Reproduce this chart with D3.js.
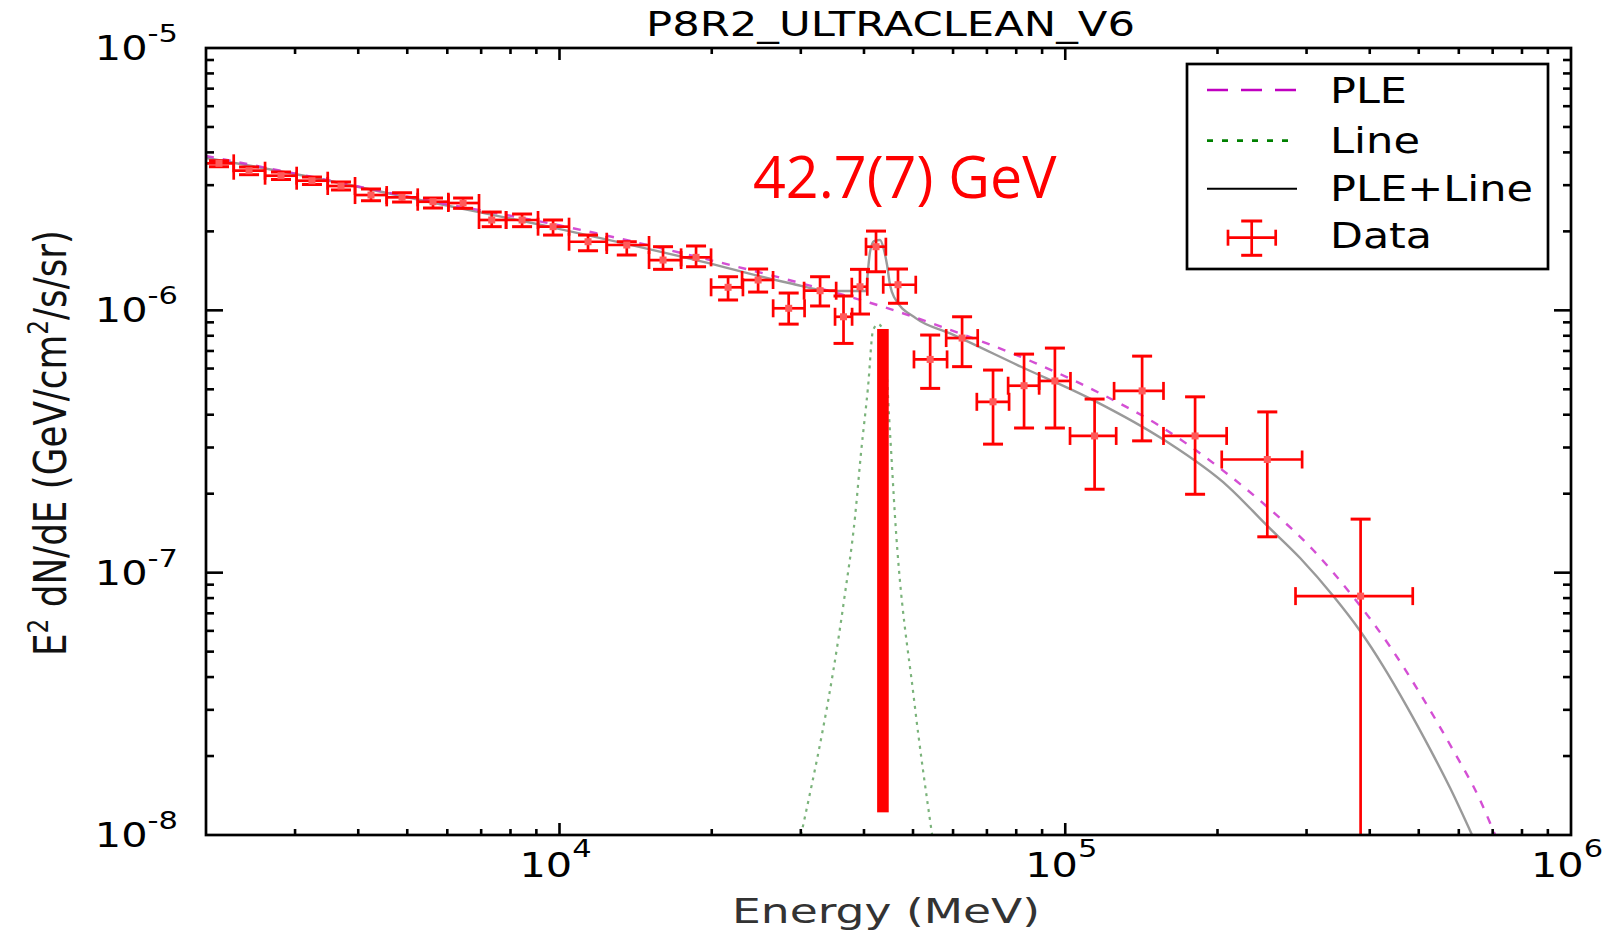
<html>
<head>
<title>P8R2_ULTRACLEAN_V6</title>
<script src="https://d3js.org/d3.v7.min.js"></script>
<style>
  body { margin: 0; background: #fff; }
  text { font-family: "DejaVu Sans", sans-serif; }
</style>
</head>
<body>
<svg id="chart" width="1607" height="933"></svg>
<script>
// ---- data (energy in MeV, flux in GeV/cm2/s/sr) ----
const energy     = [2122, 2433, 2814, 3240, 3698, 4239, 4883, 5622, 6447, 7345, 8433, 9711, 11387, 13584, 16022, 18621, 21543, 24700, 28390, 32750, 36440, 39280, 42250, 46700, 54060, 62520, 71980, 82900, 95400, 114300, 141900, 180600, 250900, 383700];
const energyLow  = [1960, 2269, 2617, 3022, 3481, 3942, 4553, 5244, 6029, 6932, 7841, 9069, 10444, 12400, 15033, 17395, 19940, 22960, 26450, 30450, 35060, 37840, 40370, 43660, 50220, 58150, 66860, 77100, 88790, 102200, 124900, 156400, 203900, 285300];
const energyHigh = [2269, 2617, 3022, 3481, 3942, 4553, 5244, 6029, 6932, 7841, 9069, 10444, 12400, 15033, 17395, 19937, 23050, 26440, 30520, 35240, 37890, 40600, 44190, 50630, 58390, 67130, 77440, 88790, 102400, 126100, 156400, 208500, 294000, 486500];
const flux     = [3.634e-6, 3.406e-6, 3.260e-6, 3.120e-6, 2.978e-6, 2.751e-6, 2.696e-6, 2.594e-6, 2.565e-6, 2.210e-6, 2.210e-6, 2.084e-6, 1.826e-6, 1.774e-6, 1.555e-6, 1.592e-6, 1.224e-6, 1.305e-6, 1.018e-6, 1.188e-6, 9.45e-7, 1.230e-6, 1.748e-6, 1.252e-6, 6.50e-7, 7.84e-7, 4.48e-7, 5.16e-7, 5.38e-7, 3.32e-7, 4.93e-7, 3.32e-7, 2.70e-7, 8.14e-8];
const fluxHigh = [3.718e-6, 3.518e-6, 3.367e-6, 3.222e-6, 3.085e-6, 2.901e-6, 2.807e-6, 2.680e-6, 2.680e-6, 2.370e-6, 2.329e-6, 2.210e-6, 1.936e-6, 1.826e-6, 1.748e-6, 1.759e-6, 1.343e-6, 1.437e-6, 1.164e-6, 1.343e-6, 1.134e-6, 1.433e-6, 2.005e-6, 1.437e-6, 8.05e-7, 9.45e-7, 5.92e-7, 6.81e-7, 7.18e-7, 4.59e-7, 6.69e-7, 4.68e-7, 4.10e-7, 1.60e-7];
const fluxLow  = [3.527e-6, 3.289e-6, 3.153e-6, 3.018e-6, 2.876e-6, 2.617e-6, 2.587e-6, 2.455e-6, 2.448e-6, 2.084e-6, 2.084e-6, 1.936e-6, 1.687e-6, 1.625e-6, 1.433e-6, 1.466e-6, 1.095e-6, 1.174e-6, 8.86e-7, 1.039e-6, 7.48e-7, 9.68e-7, 1.403e-6, 1.064e-6, 5.04e-7, 6.10e-7, 3.09e-7, 3.56e-7, 3.56e-7, 2.08e-7, 3.18e-7, 1.99e-7, 1.37e-7, 1e-9];

// model curves
const pleEnergy = [2000, 3069, 5299, 10024, 18963, 35860, 41110, 58140, 87550, 117200, 154700, 200600, 250700, 309100, 370800, 438900, 507600, 582100, 661100, 707900];
const pleFlux   = [3.875e-6, 3.295e-6, 2.657e-6, 2.106e-6, 1.589e-6, 1.154e-6, 1.069e-6, 8.535e-7, 6.280e-7, 4.826e-7, 3.599e-7, 2.533e-7, 1.783e-7, 1.220e-7, 8.09e-8, 5.22e-8, 3.363e-8, 2.138e-8, 1.358e-8, 1.0e-8];

const lineEnergy = [30030, 36530, 38400, 39460, 40740, 41690, 42650, 43630, 45040, 46070, 50250, 54550];
const lineFlux   = [1.0e-8, 7.86e-8, 1.63e-7, 2.86e-7, 5.1e-7, 8.4e-7, 8.86e-7, 8.4e-7, 3.4e-7, 1.63e-7, 3.27e-8, 1.0e-8];

const totEnergy = [2000, 3069, 5299, 10024, 18963, 28570, 34260, 40370, 40740, 41110, 41870, 43030, 43820, 44430, 45040, 45860, 50710, 59210, 81780, 113500, 156900, 209900, 250700, 291300, 340100, 382900, 425100, 474300, 526500, 576800, 637400];
const totFlux   = [3.807e-6, 3.281e-6, 2.634e-6, 2.041e-6, 1.541e-6, 1.268e-6, 1.185e-6, 1.185e-6, 1.424e-6, 1.668e-6, 1.837e-6, 1.853e-6, 1.697e-6, 1.488e-6, 1.249e-6, 1.124e-6, 9.322e-7, 8.168e-7, 6.095e-7, 4.549e-7, 3.202e-7, 2.13e-7, 1.51e-7, 1.137e-7, 8.07e-8, 5.99e-8, 4.405e-8, 3.074e-8, 2.125e-8, 1.51e-8, 1.0e-8];

// red marker of the line position
const peakEnergy = 43600;
const peakTop = 8.49e-7;
const peakBottom = 1.22e-8;

const xTickLabels = [1e4, 1e5, 1e6];
const yTickLabels = [1e-5, 1e-6, 1e-7, 1e-8];
const legendNames = ["PLE", "Line", "PLE+Line", "Data"];

// ---- layout ----
const svg = d3.select("#chart");
const plot = {left: 206, right: 1571, top: 48, bottom: 835};

const x = d3.scaleLog().domain([2000, 1e6]).range([plot.left, plot.right]);
const y = d3.scaleLog().domain([1e-8, 1e-5]).range([plot.bottom, plot.top]);

svg.append("defs").append("clipPath").attr("id", "clip")
   .append("rect")
   .attr("x", plot.left).attr("y", plot.top)
   .attr("width", plot.right - plot.left).attr("height", plot.bottom - plot.top);

const layer = svg.append("g").attr("clip-path", "url(#clip)");

// text helper: places a text, optionally stretched to a given width
function label(parent, px, py, opts, build) {
    let tr = `translate(${px},${py})`;
    if (opts.rotate) tr += ` rotate(${opts.rotate})`;
    const g = parent.append("g").attr("transform", tr);
    const inner = g.append("g");
    const t = inner.append("text").attr("text-anchor", opts.anchor || "start");
    build(t);
    let sx = opts.sx || 1;
    if (opts.width) sx = opts.width / t.node().getBBox().width;
    inner.attr("transform", `scale(${sx},${opts.sy || 1})`);
    return t;
}

// ---- curves ----
const line = d3.line().curve(d3.curveMonotoneX);
const pts = (es, fs) => es.map((e, i) => [x(e), y(fs[i])]);

layer.append("path")
     .attr("d", line(pts(lineEnergy, lineFlux)))
     .attr("fill", "none").attr("stroke", "#4f9a4f")
     .attr("stroke-width", 2.2).attr("stroke-dasharray", "3,5")
     .attr("opacity", 0.75);

layer.append("path")
     .attr("d", line(pts(totEnergy, totFlux)))
     .attr("fill", "none").attr("stroke", "#9a9a9a")
     .attr("stroke-width", 2.4);

layer.append("path")
     .attr("d", line(pts(pleEnergy, pleFlux)))
     .attr("fill", "none").attr("stroke", "#cc30cc")
     .attr("stroke-width", 2.4).attr("stroke-dasharray", "8,9")
     .attr("opacity", 0.85);

// thick red marker
layer.append("rect")
     .attr("x", x(peakEnergy) - 5.8).attr("width", 11.6)
     .attr("y", y(peakTop)).attr("height", y(peakBottom) - y(peakTop))
     .attr("fill", "#ff0000");

// ---- data with error bars ----
const red = "#ff0000";
const bars = layer.append("g").attr("stroke", red).attr("stroke-width", 2.7);
energy.forEach((e, i) => {
    const cx = x(e), cy = y(flux[i]);
    const x0 = x(energyLow[i]), x1 = x(energyHigh[i]);
    const y0 = y(fluxHigh[i]), y1 = y(fluxLow[i]);
    bars.append("line").attr("x1", x0).attr("x2", x1).attr("y1", cy).attr("y2", cy);
    bars.append("line").attr("x1", x0).attr("x2", x0).attr("y1", cy - 9).attr("y2", cy + 9);
    bars.append("line").attr("x1", x1).attr("x2", x1).attr("y1", cy - 9).attr("y2", cy + 9);
    bars.append("line").attr("x1", cx).attr("x2", cx).attr("y1", y0).attr("y2", y1);
    bars.append("line").attr("x1", cx - 10).attr("x2", cx + 10).attr("y1", y0).attr("y2", y0).attr("stroke-width", 3);
    bars.append("line").attr("x1", cx - 10).attr("x2", cx + 10).attr("y1", y1).attr("y2", y1).attr("stroke-width", 3);
    layer.append("rect").attr("x", cx - 3.5).attr("y", cy - 3.5)
         .attr("width", 7).attr("height", 7).attr("fill", "#ff5a5a");
});

// ---- frame and ticks ----
svg.append("rect")
   .attr("x", plot.left).attr("y", plot.top)
   .attr("width", plot.right - plot.left).attr("height", plot.bottom - plot.top)
   .attr("fill", "none").attr("stroke", "#000").attr("stroke-width", 2.7);

const isMajor = v => Math.abs(Math.log10(v) - Math.round(Math.log10(v))) < 1e-6;
const ticks = svg.append("g").attr("stroke", "#000").attr("stroke-width", 2.6);

x.ticks().filter(v => v > 2000 && v < 1e6).forEach(v => {
    const len = isMajor(v) ? 12 : 6;
    const px = x(v);
    ticks.append("line").attr("x1", px).attr("x2", px).attr("y1", plot.bottom).attr("y2", plot.bottom - len);
    ticks.append("line").attr("x1", px).attr("x2", px).attr("y1", plot.top).attr("y2", plot.top + len);
});
y.ticks().filter(v => v > 1e-8 && v < 1e-5).forEach(v => {
    const len = isMajor(v) ? 17 : 8;
    const py = y(v);
    ticks.append("line").attr("x1", plot.left).attr("x2", plot.left + len).attr("y1", py).attr("y2", py);
    ticks.append("line").attr("x1", plot.right).attr("x2", plot.right - len).attr("y1", py).attr("y2", py);
});

// tick labels
yTickLabels.forEach(v => {
    label(svg, 178, y(v) + 12, {anchor: "end", sx: 1.22}, t => {
        t.attr("font-size", 34).attr("fill", "#000").text("10");
        t.append("tspan").attr("dy", -18).attr("font-size", 25).text(String(Math.round(Math.log10(v))));
    });
});
xTickLabels.forEach(v => {
    label(svg, x(v) - 4, 876.7, {anchor: "middle", sx: 1.22}, t => {
        t.attr("font-size", 34).attr("fill", "#000").text("10");
        t.append("tspan").attr("dy", -20).attr("font-size", 25).text(String(Math.round(Math.log10(v))));
    });
});

// titles
label(svg, 890.5, 36, {anchor: "middle", width: 489}, t => {
    t.attr("font-size", 33).attr("fill", "#000").text("P8R2_ULTRACLEAN_V6");
});
label(svg, 886, 923, {anchor: "middle", width: 308}, t => {
    t.attr("font-size", 34).attr("fill", "#333").text("Energy (MeV)");
});
label(svg, 66, 443, {anchor: "middle", rotate: -90, sy: 1.3, width: 426}, t => {
    t.attr("font-size", 34).attr("fill", "#111");
    t.append("tspan").text("E");
    t.append("tspan").attr("dy", -14).attr("font-size", 22).text("2");
    t.append("tspan").attr("dy", 14).text(" dN/dE (GeV/cm");
    t.append("tspan").attr("dy", -14).attr("font-size", 22).text("2");
    t.append("tspan").attr("dy", 14).text("/s/sr)");
});

// ---- legend ----
const legend = svg.append("g");
legend.append("rect")
      .attr("x", 1187).attr("y", 64).attr("width", 361).attr("height", 205)
      .attr("fill", "#fff").attr("stroke", "#000").attr("stroke-width", 2.7);

const rowY = [90, 140.7, 188.7, 237.7];
const textY = [102.7, 153, 201, 248.3];
const textW = [77, 90, 203, 102];

legend.append("line").attr("x1", 1207).attr("x2", 1297).attr("y1", rowY[0]).attr("y2", rowY[0])
      .attr("stroke", "#c000c0").attr("stroke-width", 2.7).attr("stroke-dasharray", "21,13");
legend.append("line").attr("x1", 1207).attr("x2", 1297).attr("y1", rowY[1]).attr("y2", rowY[1])
      .attr("stroke", "#008000").attr("stroke-width", 2.7).attr("stroke-dasharray", "6,9");
legend.append("line").attr("x1", 1207).attr("x2", 1297).attr("y1", rowY[2]).attr("y2", rowY[2])
      .attr("stroke", "#000").attr("stroke-width", 2);

const lg = legend.append("g").attr("stroke", red).attr("stroke-width", 2.7);
const mx = 1251.7, my = rowY[3];
lg.append("line").attr("x1", mx - 23.7).attr("x2", mx + 24).attr("y1", my).attr("y2", my);
lg.append("line").attr("x1", mx - 23.7).attr("x2", mx - 23.7).attr("y1", my - 8).attr("y2", my + 8);
lg.append("line").attr("x1", mx + 24).attr("x2", mx + 24).attr("y1", my - 8).attr("y2", my + 8);
lg.append("line").attr("x1", mx).attr("x2", mx).attr("y1", my - 16.7).attr("y2", my + 17.6);
lg.append("line").attr("x1", mx - 10.5).attr("x2", mx + 10.5).attr("y1", my - 16.7).attr("y2", my - 16.7).attr("stroke-width", 3);
lg.append("line").attr("x1", mx - 10.5).attr("x2", mx + 10.5).attr("y1", my + 17.6).attr("y2", my + 17.6).attr("stroke-width", 3);

legendNames.forEach((n, i) => {
    label(legend, 1330, textY[i], {anchor: "start", width: textW[i]}, t => {
        t.attr("font-size", 36).attr("fill", "#000").text(n);
    });
});

// ---- annotation ----
label(svg, 753, 198.3, {anchor: "start", width: 304}, t => {
    t.attr("font-size", 58).attr("fill", "#ff0000")
     .style("font-family", "'Open Sans', 'Noto Sans', sans-serif")
     .text("42.7(7) GeV");
});
</script>
</body>
</html>
